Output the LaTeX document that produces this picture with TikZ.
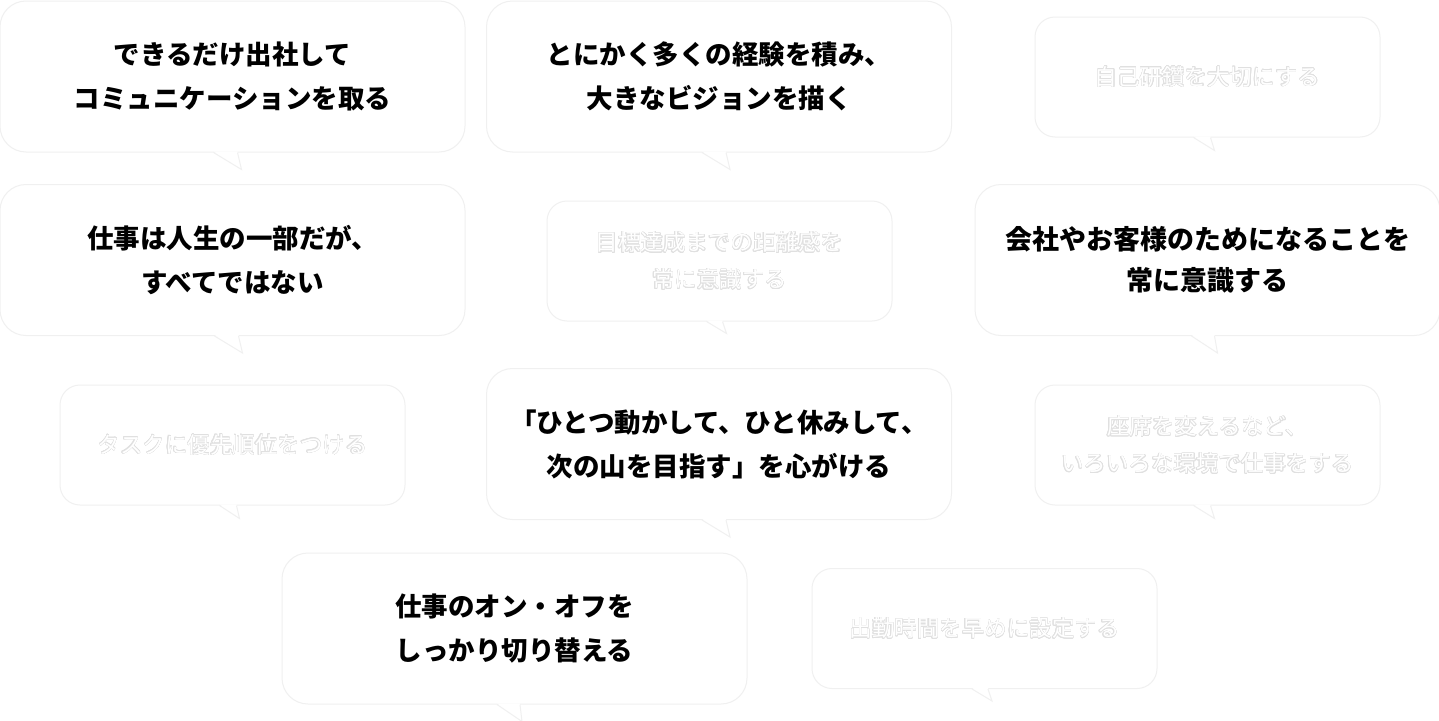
\documentclass[tikz,border=0pt]{standalone}
\usepackage{fontspec}
\usepackage{contour}
\usetikzlibrary{calc}
\newfontfamily\jp{Noto Sans CJK JP}
\contourlength{0.45pt}
\contournumber{16}
\newcommand\ghost[1]{\contour{black!12}{#1}}
\tikzset{
  bubble/.style={draw=black!6, line width=1pt, fill=white, inner sep=0pt, align=center},
  bigbub/.style={bubble, rounded corners=26pt, minimum width=465pt, minimum height=151pt,
    font=\jp\bfseries\fontsize{26.5}{44}\selectfont, text=black},
  smallbub/.style={bubble, rounded corners=20pt, minimum width=345pt, minimum height=120pt,
    font=\jp\fontsize{22.5}{37}\selectfont, text=white},
  tailline/.style={draw=black!6, line width=1pt}
}
% #1 node, #2 left offset, #3 right offset, #4 apex x offset, #5 apex depth
\newcommand\bubtail[5]{%
  \fill[white] ($(#1.south)+(#2,-1.2)$) -- ($(#1.south)+(#4,#5)$) -- ($(#1.south)+(#3,-1.2)$) -- cycle;
  \draw[tailline] ($(#1.south)+(#2,0)$) -- ($(#1.south)+(#4,#5)$) -- ($(#1.south)+(#3,0)$);
}
\begin{document}
\begin{tikzpicture}[x=1pt,y=-1pt]
\useasboundingbox[fill=white] (0,0) rectangle (1439,720);

\node[bigbub] (b1) at (232.5,76.5) {できるだけ出社して\\コミュニケーションを取る};
\bubtail{b1}{-19}{5}{9}{17}
\node[bigbub] (b2) at (719,76.5) {とにかく多くの経験を積み、\\大きなビジョンを描く};
\bubtail{b2}{-17}{7}{11}{17}
\node[smallbub] (b3) at (1207.5,77) {\ghost{自己研鑽を大切にする}};
\bubtail{b3}{-14}{3}{7}{13}

\node[bigbub] (b4) at (232.5,260) {仕事は人生の一部だが、\\すべてではない};
\bubtail{b4}{-18}{6}{10}{17}
\node[smallbub] (b5) at (719.5,261) {\ghost{目標達成までの距離感を}\\\ghost{常に意識する}};
\bubtail{b5}{-13}{3}{7}{12}
\node[bigbub, font=\jp\bfseries\fontsize{27}{41}\selectfont] (b6) at (1207.5,260) {会社やお客様のためになることを\\常に意識する};
\bubtail{b6}{-16}{7}{10}{17}

\node[smallbub] (b7) at (232.5,445) {\ghost{タスクに優先順位をつける}};
\bubtail{b7}{-13}{4}{7}{13}
\node[bigbub] (b8) at (719,444) {「ひとつ動かして、ひと休みして、\\次の山を目指す」を心がける};
\bubtail{b8}{-17}{7}{11}{17}
\node[smallbub] (b9) at (1207.5,445) {\ghost{座席を変えるなど、}\\\ghost{いろいろな環境で仕事をする}};
\bubtail{b9}{-14}{3}{7}{13}

\node[bigbub] (b10) at (514.5,628.5) {仕事のオン・オフを\\しっかり切り替える};
\bubtail{b10}{-17.5}{5.5}{7.5}{17}
\node[smallbub] (b11) at (984.5,628.5) {\ghost{出勤時間を早めに設定する}};
\bubtail{b11}{-12.5}{3.5}{7.5}{12}
\end{tikzpicture}
\end{document}
